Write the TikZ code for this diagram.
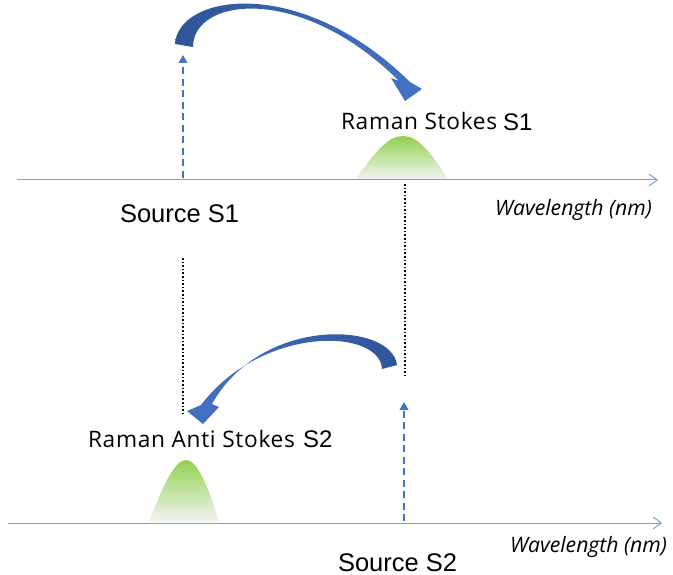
\documentclass[tikz,border=0pt]{standalone}
\usepackage{fontspec}
\setmainfont{Liberation Sans}
\newfontfamily\labelfont[LetterSpace=3]{Open Sans}
\newfontfamily\axisfont{Open Sans}
\usetikzlibrary{arrows.meta}

\definecolor{axisblue}{HTML}{7F9FD8}
\definecolor{srcblue}{HTML}{4472C4}
\definecolor{darkblue}{HTML}{2F5597}
\definecolor{peakgreen}{HTML}{92D050}
\definecolor{peakbase}{HTML}{F4F4F4}

\tikzset{
  axisline/.style={draw=axisblue, line width=1pt, -{Straight Barb[length=8pt,width=12pt,line width=1pt]}},
  sourceline/.style={draw=srcblue, line width=2.2pt, dash pattern=on 7pt off 4.5pt, -{Triangle[length=8pt,width=8.5pt]}},
  linkline/.style={draw=black, line width=1.6pt, dash pattern=on 1.6pt off 2pt},
  txt/.style={anchor=base west, inner sep=0pt, outer sep=0pt},
  ramanlabel/.style={txt, font=\labelfont\fontsize{22.7}{27}\selectfont},
  srclabel/.style={txt, font=\fontsize{25.5}{30}\selectfont},
  slabel/.style={txt, font=\fontsize{24}{28}\selectfont},
  axislabel/.style={txt, font=\axisfont\itshape\fontsize{21.2}{25}\selectfont},
  peak/.style={top color=peakgreen, bottom color=peakbase},
}

\begin{document}
\begin{tikzpicture}[x=1pt,y=-1pt]
\useasboundingbox (0,0) rectangle (673,575);

% spectral peaks
\shade[peak] (355,180) .. controls (375,152) and (388,136) .. (403,136)
  .. controls (418,136) and (431,152) .. (448,180) -- cycle;
\shade[peak] (149,522) .. controls (163,485) and (175,460) .. (186,460)
  .. controls (197,460) and (208,485) .. (219,522) -- cycle;

% wavelength axes
\coordinate (ax1s) at (17,180);
\coordinate (ax1e) at (658,180);
\coordinate (ax2s) at (8,523);
\coordinate (ax2e) at (662,523);
\draw[axisline] (ax1s) -- (ax1e);
\draw[axisline] (ax2s) -- (ax2e);

% source lines
\coordinate (src1) at (183,178);
\coordinate (src1tip) at (183,55);
\coordinate (src2) at (404,521);
\coordinate (src2tip) at (404,402);
\draw[sourceline] (src1) -- (src1tip);
\draw[sourceline] (src2) -- (src2tip);

% dotted guides between the two spectra
\coordinate (g1a) at (405,184);
\coordinate (g1b) at (405,378);
\coordinate (g2a) at (183,258);
\coordinate (g2b) at (183,415);
\draw[linkline] (g1a) -- (g1b);
\draw[linkline] (g2a) -- (g2b);

% curved arrow: source S1 to Stokes line
\shade[left color=darkblue, right color=srcblue]
  (175,44) .. controls (178,-6) and (300,-26) .. (410,82)
  -- (422,89) -- (405,101) -- (391,78) -- (399,81)
  .. controls (302,-16) and (193,-3) .. (193,47) -- cycle;

% curved arrow: source S2 to anti-Stokes line
\shade[left color=srcblue, right color=darkblue]
  (397,365) .. controls (392,322) and (262,315) .. (212,404)
  -- (219,407) -- (203,424) -- (187,411) -- (201,405)
  .. controls (262,325) and (380,328) .. (382,369) -- cycle;

% labels
\node[ramanlabel] (stokes) at (341,130) {Raman Stokes};
\node[slabel] (stokesS) at (503,131) {S1};
\node[srclabel] (source1) at (120,223) {Source S1};
\node[axislabel] (wl1) at (495,216) {Wavelength (nm)};
\node[ramanlabel] (anti) at (88,447) {Raman Anti Stokes};
\node[slabel] (antiS) at (303,447) {S2};
\node[srclabel] (source2) at (338,571) {Source S2};
\node[axislabel] (wl2) at (510,552) {Wavelength (nm)};
\end{tikzpicture}
\end{document}
